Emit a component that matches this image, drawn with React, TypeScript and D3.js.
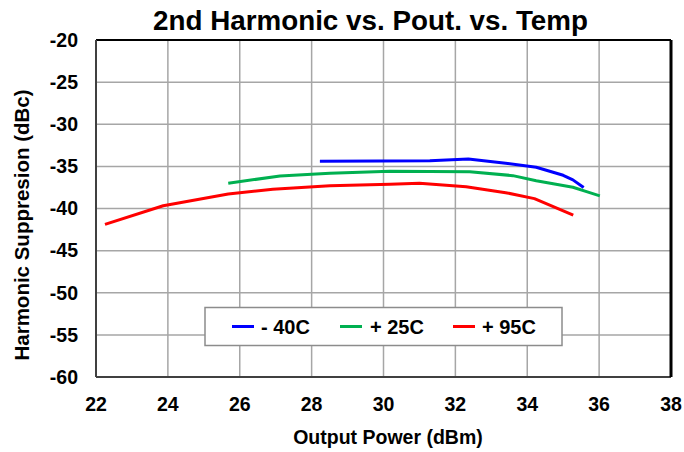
import React from "react";
import * as d3 from "d3";

const xTicks = [22, 24, 26, 28, 30, 32, 34, 36, 38];
const yTicks = [-20, -25, -30, -35, -40, -45, -50, -55, -60];

const seriesNames = ["- 40C", "+ 25C", "+ 95C"];
const seriesColors = ["#0000ff", "#00b050", "#ff0000"];

const m40X = [28.23, 29.9, 31.29, 32.36, 33.4, 34.25, 35.0, 35.27, 35.57];
const m40Y = [-34.4, -34.36, -34.33, -34.12, -34.63, -35.1, -36.06, -36.6, -37.5];

const p25X = [25.68, 27.12, 28.51, 30.18, 32.4, 33.6, 34.25, 35.27, 35.65, 36.02];
const p25Y = [-37.0, -36.14, -35.82, -35.58, -35.63, -36.1, -36.7, -37.48, -38.0, -38.5];

const p95X = [22.25, 23.87, 25.68, 26.92, 28.51, 30.18, 31.0, 32.3, 33.4, 34.2, 35.28];
const p95Y = [-41.88, -39.67, -38.28, -37.72, -37.3, -37.13, -37.0, -37.41, -38.12, -38.83, -40.8];

const seriesX = [m40X, p25X, p95X];
const seriesY = [m40Y, p25Y, p95Y];

export default function App() {
  const W = 684, H = 452;
  const left = 96, right = 671, top = 40, bottom = 377;
  const x = d3.scaleLinear().domain([22, 38]).range([left, right]);
  const y = d3.scaleLinear().domain([-60, -20]).range([bottom, top]);
  const line = d3.line<[number, number]>().x(d => x(d[0])).y(d => y(d[1]));
  const font = "'Liberation Sans', Arial, sans-serif";

  const legendItems = [
    { lx: 232, tx: 261 },
    { lx: 340, tx: 370 },
    { lx: 453, tx: 482 },
  ];

  return (
    <svg width={W} height={H} style={{ position: "absolute", left: 0, top: 0, background: "#fff" }} fontFamily={font}>
      <rect x={0} y={0} width={W} height={H} fill="#fff" />
      {xTicks.slice(1, -1).map(t => (
        <line key={"gx" + t} x1={x(t)} x2={x(t)} y1={top} y2={bottom} stroke="#a6a6a6" strokeWidth={1.5} />
      ))}
      {yTicks.slice(1, -1).map(t => (
        <line key={"gy" + t} x1={left} x2={right} y1={y(t)} y2={y(t)} stroke="#a6a6a6" strokeWidth={1.5} />
      ))}
      <line x1={left} x2={right} y1={top} y2={top} stroke="#000" strokeWidth={2} />
      <line x1={left} x2={right} y1={bottom} y2={bottom} stroke="#404040" strokeWidth={2} />
      <line x1={left} x2={left} y1={top} y2={bottom} stroke="#404040" strokeWidth={2} />
      <line x1={right} x2={right} y1={top} y2={bottom} stroke="#000" strokeWidth={3} />

      {seriesX.map((xs, i) => (
        <path key={"s" + i} d={line(xs.map((v, j) => [v, seriesY[i][j]]) as [number, number][]) || ""}
          fill="none" stroke={seriesColors[i]} strokeWidth={3} strokeLinejoin="round" />
      ))}

      {yTicks.map(t => (
        <text key={"yl" + t} x={78} y={y(t)} dy="0.35em" textAnchor="end" fontSize={19.5} fontWeight="bold">{t}</text>
      ))}
      {xTicks.map(t => (
        <text key={"xl" + t} x={x(t)} y={404} dy="0.35em" textAnchor="middle" fontSize={19.5} fontWeight="bold">{t}</text>
      ))}

      <text x={153} y={30} fontSize={28} fontWeight="bold" textLength={435} lengthAdjust="spacingAndGlyphs">2nd Harmonic vs. Pout. vs. Temp</text>
      <text x={388} y={444} textAnchor="middle" fontSize={19.5} fontWeight="bold">Output Power (dBm)</text>
      <text transform={`translate(29,225) rotate(-90)`} textAnchor="middle" fontSize={20.5} fontWeight="bold">Harmonic Suppresion (dBc)</text>

      <rect x={205} y={307.5} width={357} height={38} fill="#fff" stroke="#8c8c8c" strokeWidth={1.5} />
      {seriesNames.map((n, i) => (
        <g key={"lg" + i}>
          <line x1={legendItems[i].lx} x2={legendItems[i].lx + 22} y1={326.5} y2={326.5} stroke={seriesColors[i]} strokeWidth={3} />
          <text x={legendItems[i].tx} y={326.5} dy="0.35em" fontSize={20} fontWeight="bold">{n}</text>
        </g>
      ))}
    </svg>
  );
}
